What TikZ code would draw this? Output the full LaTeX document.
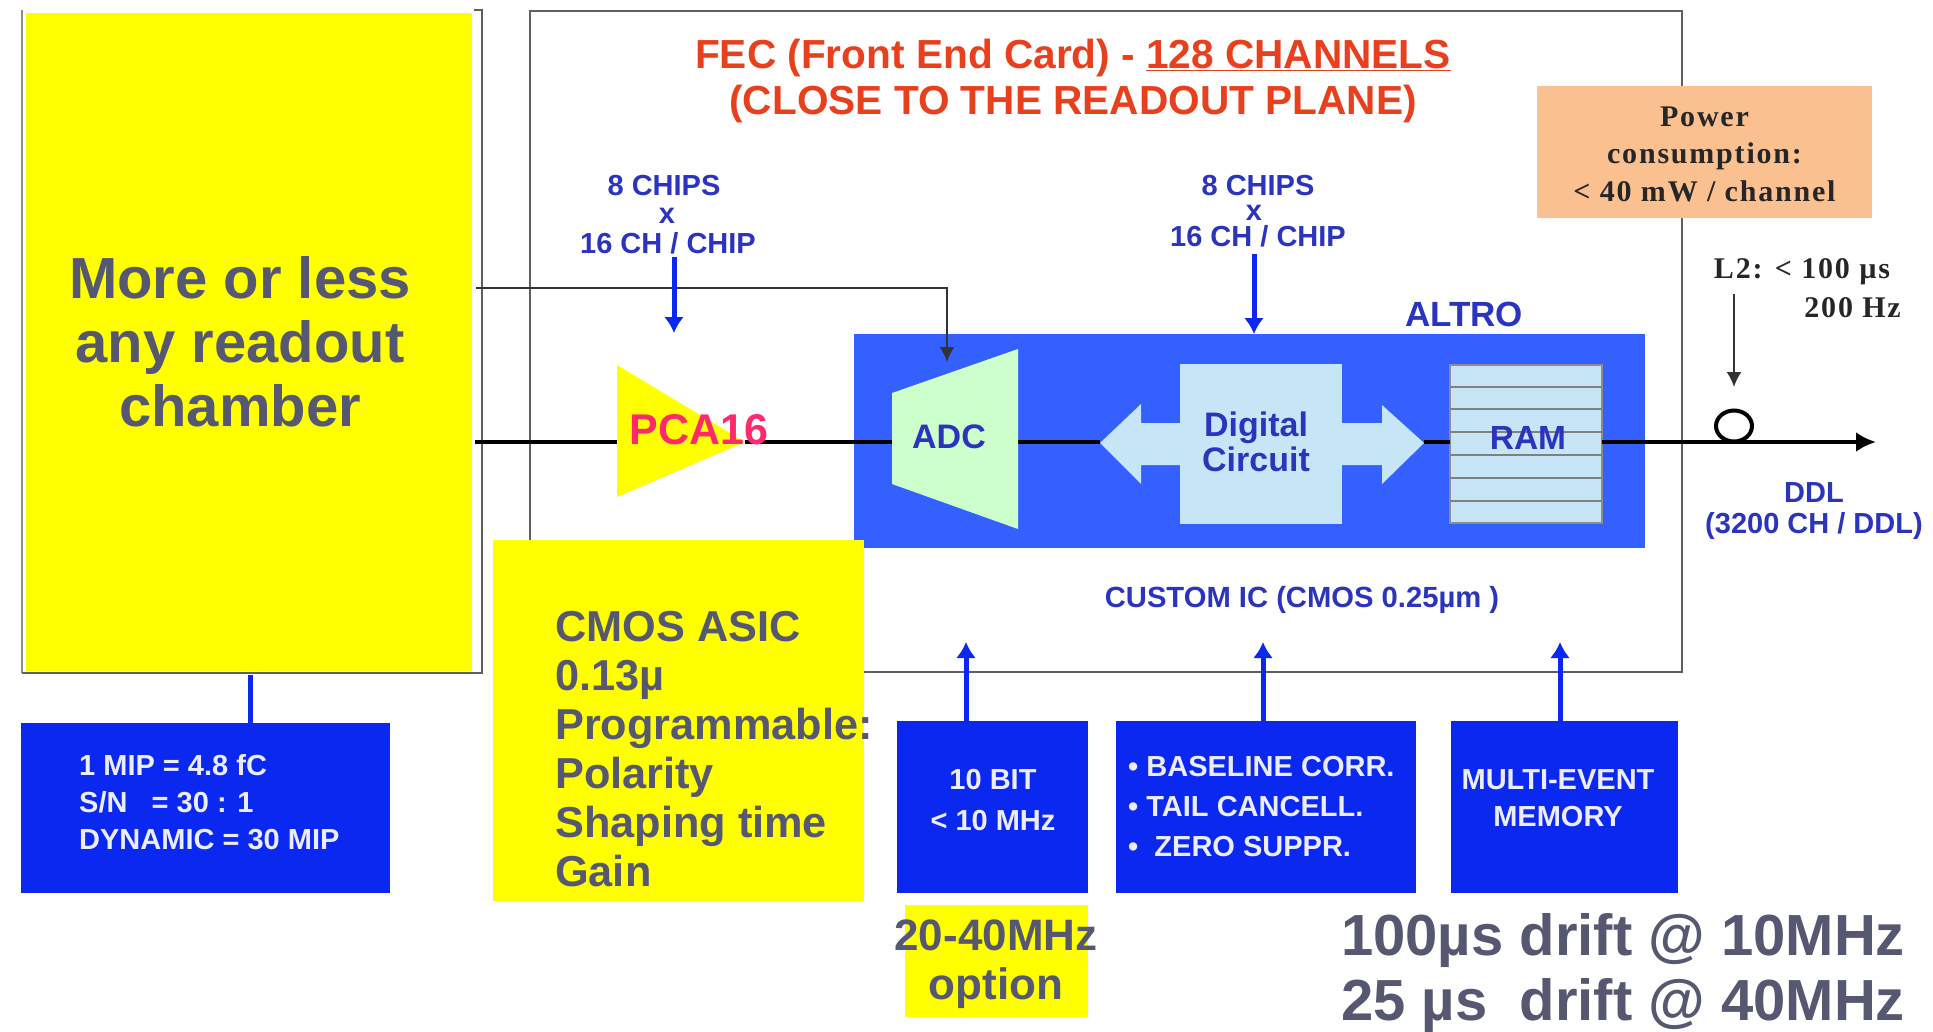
\documentclass[tikz,border=0pt]{standalone}
\usepackage{fontspec}
\setmainfont{Liberation Sans}
\newfontfamily\serifb[LetterSpace=6]{Liberation Serif}
\usetikzlibrary{arrows.meta,calc}
\definecolor{chipblue}{HTML}{0A28F0}
\definecolor{altroblue}{HTML}{3360FF}
\definecolor{lightb}{HTML}{C6E6F8}
\definecolor{adcgreen}{HTML}{CCFFCC}
\definecolor{orangebox}{HTML}{FAC08F}
\definecolor{fecred}{HTML}{E8401C}
\definecolor{pcared}{HTML}{FF2A6A}
\definecolor{txtblue}{HTML}{2B34BE}
\definecolor{txtgrey}{HTML}{555870}
\definecolor{boxwhite}{HTML}{ECECFF}
\definecolor{framegrey}{HTML}{606060}
\definecolor{pureyellow}{RGB}{255,255,0}
\newcommand\fsz[2]{\fontsize{#1}{#2}\selectfont}
% name, x1, y1, x2, y2, style
\newcommand\boxn[6]{\node[boxn,#6,minimum width={(#4-#2)*1pt},minimum height={(#5-#3)*1pt}] (#1) at ({(#2+#4)/2},{(#3+#5)/2}) {};}
\tikzset{
  boxn/.style={rectangle,inner sep=0pt,outer sep=0pt,draw=none},
  frame/.style={draw=framegrey,line width=2.4pt},
  sig/.style={draw=black,line width=4.5pt},
  thin arrow/.style={draw=black!80,line width=2pt,-{Latex[length=15pt,width=15pt]}},
  blue arrow/.style={draw=chipblue,line width=5pt,-{Latex[length=16pt,width=20pt]}},
  chiptxt/.style={text=txtblue,font=\bfseries\fsz{29}{30},inner sep=0pt,align=center},
  whitetxt/.style={text=boxwhite,font=\bfseries\fsz{29}{37},inner sep=0pt},
  greytxt/.style={text=txtgrey,font=\bfseries\fsz{43.3}{49},inner sep=0pt},
  seriftxt/.style={text=black!85,font=\serifb\bfseries\fsz{30}{37.5},inner sep=0pt,align=center},
}
\begin{document}
\begin{tikzpicture}[x=1pt,y=-1pt]
\useasboundingbox (0,0) rectangle (1933,1031);
% frames
\draw[frame,draw=black!45] (22,10) -- (22,673);
\draw[frame] (22,673) -- (482,673) -- (482,10) -- (474,10);
\boxn{fec}{530}{11}{1682}{672}{frame}
\boxn{chamber}{26}{13}{472}{671}{fill=pureyellow}
% ALTRO
\boxn{altro}{854}{334}{1645}{548}{fill=altroblue}
% named points
\coordinate (sigstart) at (475,442);
\coordinate (trileft) at (617,442);
\coordinate (triapex) at (745,442);
\coordinate (adcleft) at (892,442);
\coordinate (adcright) at (1018,442);
\coordinate (dtipl) at (1100,442);
\coordinate (dtipr) at (1424,442);
\coordinate (ddlend) at (1876,442);
\coordinate (adcin) at (947,362);
\coordinate (tapstart) at (476,288);
\coordinate (pcaend) at (674,333);
\coordinate (digin) at (1254,334);
\coordinate (l2end) at (1734,387);
\coordinate (l2start) at (1734,294);
% signal line
\draw[sig] (sigstart) -- (trileft);
\draw[sig] (triapex) -- (adcleft);
\draw[sig] (adcright) -- (dtipl);
\boxn{ram}{1450}{365}{1602}{523}{fill=lightb,draw=black!45,line width=2.5pt}
\draw[sig] (dtipr) -- (dtipr -| ram.west);
\draw[sig,-{Latex[length=20pt,width=20pt]}] (ddlend -| ram.east) -- (ddlend);
\foreach \y in {387,409,432,455,478,501}
  \draw[black!50,line width=2pt] (1450,\y) -- (1602,\y);
% triangle
\fill[pureyellow] (617,365) -- (745,442) -- (617,497) -- cycle;
% ADC
\fill[adcgreen] (892,393) -- (1018,349) -- (1018,529) -- (892,484) -- cycle;
% digital circuit with double arrow
\fill[lightb] (1100,443) -- (1141,404) -- (1141,423) -- (1382,423) -- (1382,405) -- (1424,443) -- (1382,484) -- (1382,465) -- (1141,465) -- (1141,484) -- cycle;
\boxn{digital}{1180}{364}{1342}{524}{fill=lightb}
% pickup loop
\draw[black,line width=4pt] (1734,426) ellipse [x radius=18pt,y radius=15.5pt];
% thin arrows
\draw[thin arrow] (tapstart) -| (adcin);
\draw[thin arrow] (l2start) -- (l2end);
% texts in FEC
\node[text=fecred,font=\bfseries\fsz{40.6}{46},inner sep=0pt,align=center] (fectitle) at (1073,81) {FEC (Front End Card) - \underline{128 CHANNELS}\\(CLOSE TO THE READOUT PLANE)};
\node[chiptxt] (chipsa) at (664,186) {8 CHIPS};
\node[chiptxt] (chipsax) at (667,216) {x};
\node[chiptxt] (chipsb) at (668,243) {16 CH / CHIP};
\node[chiptxt] (chipsc) at (1258,186) {8 CHIPS};
\node[chiptxt] (chipscx) at (1254,213) {x};
\node[chiptxt] (chipsd) at (1258,236) {16 CH / CHIP};
\draw[blue arrow] (chipsb.south -| pcaend) ++(0,3) -- (pcaend);
\draw[blue arrow] (chipsd.south -| digin) ++(0,7) -- (digin);
\node[chiptxt,font=\bfseries\fsz{35}{36}] (altrolab) at (1464,314) {ALTRO};
\node[text=txtblue,font=\bfseries\fsz{34}{35},inner sep=0pt] (adclab) at (949,437) {ADC};
\node[text=txtblue,font=\bfseries\fsz{34}{35},inner sep=0pt,align=center] (digilab) at (1256,442) {Digital\\Circuit};
\node[text=txtblue,font=\bfseries\fsz{33.5}{35},inner sep=0pt] (ramlab) at (1528,438) {RAM};
\node[text=pcared,font=\bfseries\fsz{43}{46},inner sep=0pt] (pcalab) at (699,430) {PCA16};
\node[chiptxt,font=\bfseries\fsz{29.2}{30}] (customlab) at (1302,600) {CUSTOM IC (CMOS 0.25µm )};
% outside right
\boxn{power}{1537}{86}{1872}{218}{fill=orangebox}
\node[seriftxt] (powerlab) at ($(power.center)+(0,2)$) {Power\\consumption:\\< 40 mW / channel};
\node[seriftxt] (l2a) at (1802,272) {L2: < 100 µs};
\node[seriftxt,anchor=east] (l2b) at (1901,308) {200 Hz};
\node[chiptxt,font=\bfseries\fsz{29}{31}] (ddllab) at (1814,511) {DDL\\(3200 CH / DDL)};
% CMOS yellow
\boxn{asic}{493}{540}{864}{901}{fill=pureyellow}
\node[greytxt,align=left,anchor=west] (asiclab) at (555,749) {CMOS ASIC\\0.13µ\\Programmable:\\Polarity\\Shaping time\\Gain};
% chamber text
\node[text=txtgrey,font=\bfseries\fsz{58}{64},inner sep=0pt,align=center] (chamberlab) at (240,342) {More or less\\any readout\\chamber};
% blue boxes
\boxn{mip}{21}{723}{390}{893}{fill=chipblue}
\boxn{tenbit}{897}{721}{1088}{893}{fill=chipblue}
\boxn{base}{1116}{721}{1416}{893}{fill=chipblue}
\boxn{multi}{1451}{721}{1678}{893}{fill=chipblue}
\coordinate (mipup) at (250,675);
\draw[draw=chipblue,line width=5pt] (mipup) -- (mip.north -| mipup);
\coordinate (aup) at (966,642);
\coordinate (bup) at (1263,642);
\coordinate (cup) at (1560,642);
\draw[blue arrow] (tenbit.north -| aup) -- (aup);
\draw[blue arrow] (base.north -| bup) -- (bup);
\draw[blue arrow] (multi.north -| cup) -- (cup);
\node[whitetxt,align=left,anchor=west] (miplab) at (79,802) {1 MIP = 4.8 fC\\S/N\ \ \ = 30 : 1\\DYNAMIC = 30 MIP};
\node[whitetxt,align=center,font=\bfseries\fsz{29}{41}] (tenlab) at (993,800) {10 BIT\\< 10 MHz};
\node[whitetxt,align=left,anchor=west,font=\bfseries\fsz{29}{40}] (baselab) at (1128,807) {• BASELINE CORR.\\• TAIL CANCELL.\\•\ \ ZERO SUPPR.};
\node[whitetxt,align=center] (multilab) at (1558,798) {MULTI-EVENT\\MEMORY};
% option
\boxn{opt}{905}{905}{1088}{1017}{fill=pureyellow}
\node[greytxt,align=center,font=\bfseries\fsz{44}{49}] (optlab) at (996,964) {20-40MHz\\option};
\node[greytxt,font=\bfseries\fsz{58}{65},align=left,anchor=west] (driftlab) at (1341,973) {100µs drift @ 10MHz\\25 µs\ \ drift @ 40MHz};
\end{tikzpicture}
\end{document}
